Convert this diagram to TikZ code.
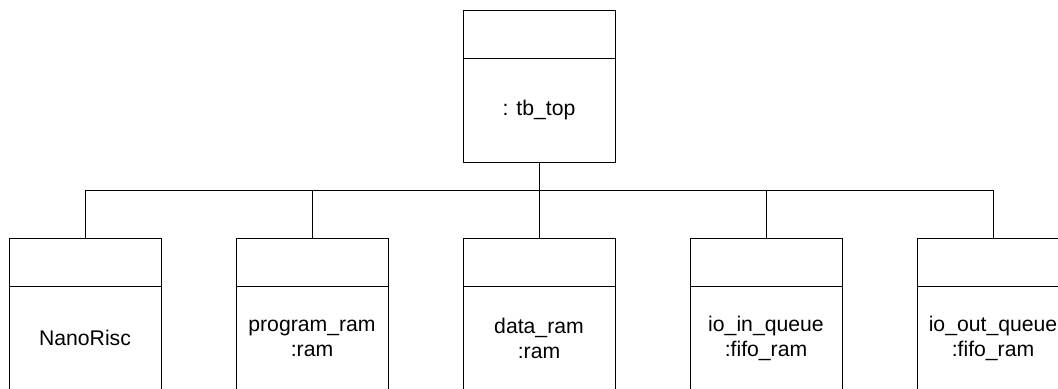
\documentclass[tikz,border=0pt]{standalone}
\usepackage{fontspec}
\setmainfont{Liberation Sans}
\usetikzlibrary{positioning}

\begin{document}
\begin{tikzpicture}[
  x=0.5pt, y=-0.5pt, node distance=37.5pt,
  hd/.style={draw, line width=0.5pt, minimum width=76pt, minimum height=24pt,
             inner sep=0pt, outer sep=0pt},
  bd/.style={hd, minimum height=52pt, align=center,
             font=\fontsize{10.6}{12.5}\selectfont},
  lnk/.style={line width=0.5pt}]
\useasboundingbox (0,0) rectangle (1058,388);
\clip (0,0) rectangle (1058,388);
% top object
\node[hd, anchor=north west](toph) at (463,10) {};
\node[bd, below=0pt of toph](top){: tb\_top};
% parts
\node[hd, anchor=north west](h1) at (9,238) {};
\node[hd, right=of h1](h2){};
\node[hd, right=of h2](h3){};
\node[hd, right=of h3](h4){};
\node[hd, right=of h4](h5){};
\node[bd, below=0pt of h1](b1){NanoRisc};
\node[bd, below=0pt of h2](b2){program\_ram\\:ram};
\node[bd, below=0pt of h3](b3){data\_ram\\:ram};
\node[bd, below=0pt of h4](b4){io\_in\_queue\\:fifo\_ram};
\node[bd, below=0pt of h5](b5){io\_out\_queue\\:fifo\_ram};
\foreach \i in {1,...,5}
  \draw[lnk] (top.south) -- ++(0,28) -| (h\i.north);
\end{tikzpicture}
\end{document}
